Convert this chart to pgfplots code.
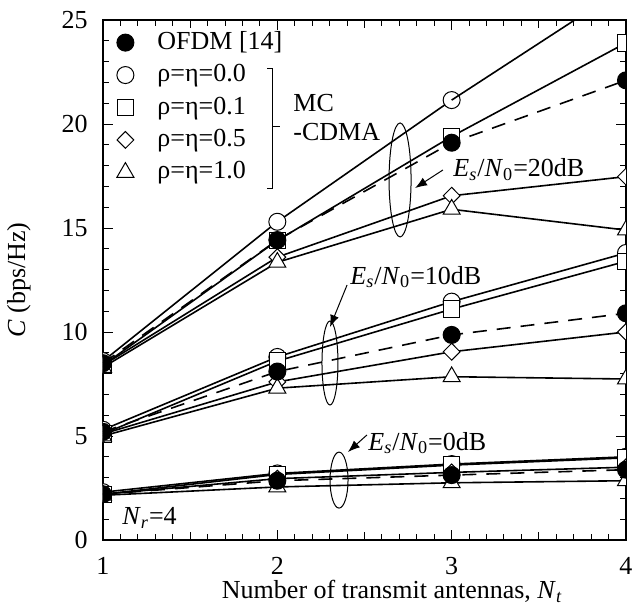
\documentclass[border=0pt]{standalone}
\usepackage{fontspec}
\setmainfont{Liberation Serif}
\usepackage{pgfplots}
\pgfplotsset{compat=1.18}
\usetikzlibrary{arrows.meta}

\pgfplotsset{
 ofdm/.style={black, line width=0.8pt, dash pattern=on 7pt off 5pt, mark=*, mark size=4.25pt, mark options={solid, fill=black, line width=0.5pt}},
 ca/.style={black, line width=0.8pt, mark=*, mark size=4.25pt, mark options={solid, fill=white, line width=0.5pt}},
 cb/.style={black, line width=0.8pt, mark=square*, mark size=4.1pt, mark options={solid, fill=white, line width=0.5pt}},
 cc/.style={black, line width=0.8pt, mark=diamond*, mark size=4.2pt, mark options={solid, fill=white, line width=0.5pt, xscale=1.33}},
 cd/.style={black, line width=0.8pt, mark=triangle*, mark size=4.9pt, mark options={solid, fill=white, line width=0.5pt}},
}

\begin{document}
\fontsize{13}{15.6}\selectfont
\begin{tikzpicture}
\begin{axis}[
 name=ax,
 scale only axis, width=261.5pt, height=260pt,
 xmin=1, xmax=4, ymin=0, ymax=25,
 xtick={1,2,3,4}, ytick={0,5,...,25},
 minor x tick num=9, minor y tick num=4,
 extra x ticks={1.5,2.5,3.5}, extra x tick labels={},
 extra x tick style={major tick length=4pt},
 tick align=inside,
 major tick length=5pt, minor tick length=3pt,
 axis line style={line width=0.6pt},
 every tick/.style={black, line width=0.5pt},
 /pgf/number format/assume math mode=true,
 tick label style={font=\fontsize{13}{15.6}\selectfont},
 xticklabel style={anchor=base, yshift=-17pt},
 yticklabel style={anchor=east, inner sep=0pt, xshift=-7.5pt},
 label style={font=\fontsize{13}{15.6}\selectfont},
 xlabel={Number of transmit antennas, \textit{N}\textsubscript{\textit{t}}},
 ylabel={\textit{C} (bps/Hz)},
 every axis x label/.style={at={(axis description cs:0.553,-0.1125)}, anchor=base},
 every axis y label/.style={at={(axis description cs:-0.161,0.5)}, rotate=90, anchor=center},
 clip marker paths=true,
 legend style={draw=none, fill=none, at={(rel axis cs:0,1)}, anchor=north west, yshift=-4pt,
   inner sep=0pt, row sep=2pt, column sep=6pt, cells={anchor=west},
   nodes={inner sep=1pt, text height=0.72em, text depth=0.22em},
   font=\fontsize{13}{15.6}\selectfont},
 legend image code/.code={\path[draw=none, fill=none] (0pt,-2pt) rectangle (20pt,2pt);
   \draw[#1] plot coordinates {(11pt,0pt)};},
]
\addlegendimage{ofdm}\addlegendentry{OFDM [14]}
\addlegendimage{ca}\addlegendentry{ρ=η=0.0}
\addlegendimage{cb}\addlegendentry{ρ=η=0.1}
\addlegendimage{cc}\addlegendentry{ρ=η=0.5}
\addlegendimage{cd}\addlegendentry{ρ=η=1.0}

% ---- Es/N0 = 20 dB ----
\addplot[ca, forget plot] coordinates {(1,8.6) (2,15.3) (3,21.15)};
\addplot[black, line width=0.8pt, forget plot] coordinates {(3,21.15) (3.706,25)};
\addplot[cb, forget plot] coordinates {(1,8.4) (2,14.4) (3,19.4) (4,23.9)};
\addplot[cc, forget plot] coordinates {(1,8.4) (2,13.6) (3,16.55) (4,17.47)};
\addplot[cd, forget plot] coordinates {(1,8.3) (2,13.35) (3,15.9) (4,14.9)};
\addplot[ofdm, forget plot] coordinates {(1,8.5) (2,14.42) (3,19.1) (4,22.1)};

% ---- Es/N0 = 10 dB ----
\addplot[ca, forget plot] coordinates {(1,5.3) (2,8.8) (3,11.46) (4,13.8)};
\addplot[cb, forget plot] coordinates {(1,5.1) (2,8.6) (3,11.1) (4,13.4)};
\addplot[cc, forget plot] coordinates {(1,5.1) (2,7.6) (3,9.05) (4,10.0)};
\addplot[cd, forget plot] coordinates {(1,5.0) (2,7.3) (3,7.85) (4,7.74)};
\addplot[ofdm, forget plot] coordinates {(1,5.2) (2,8.1) (3,9.86) (4,10.9)};

% ---- Es/N0 = 0 dB ----
\addplot[ca, forget plot] coordinates {(1,2.3) (2,3.2) (3,3.65) (4,4.0)};
\addplot[cb, forget plot] coordinates {(1,2.2) (2,3.15) (3,3.6) (4,3.95)};
\addplot[cc, forget plot] coordinates {(1,2.2) (2,2.95) (3,3.25) (4,3.5)};
\addplot[cd, forget plot] coordinates {(1,2.15) (2,2.55) (3,2.75) (4,2.85)};
\addplot[ofdm, forget plot] coordinates {(1,2.2) (2,2.85) (3,3.12) (4,3.38)};

% ---- annotations ----
\draw[line width=0.5pt] (axis cs:1.941,22.69) -- (axis cs:1.975,22.69) -- (axis cs:1.975,16.92) -- (axis cs:1.941,16.92);
\draw[line width=0.5pt] (axis cs:1.975,19.86) -- (axis cs:2.015,19.86);
\node[anchor=west, inner sep=0pt] at (axis cs:2.09,21.01) {MC};
\node[anchor=west, inner sep=0pt] at (axis cs:2.09,19.62) {-CDMA};

\draw[line width=0.5pt] (axis cs:2.704,17.31) ellipse [x radius=5.5pt, y radius=28.5pt];
\draw[line width=0.5pt, -{Latex[length=6pt,width=4.5pt]}] (axis cs:2.95,17.79) -- (axis cs:2.79,16.92);
\node[anchor=west, inner sep=0pt] at (axis cs:3.008,17.79) {\textit{E}\textsubscript{\textit{s}}/\textit{N}\textsubscript{0}=20dB};

\draw[line width=0.5pt] (axis cs:2.302,8.51) ellipse [x radius=4pt, y radius=21pt];
\draw[line width=0.5pt, -{Latex[length=6pt,width=4.5pt]}] (axis cs:2.40,12.26) -- (axis cs:2.302,10.24);
\node[anchor=west, inner sep=0pt] at (axis cs:2.417,12.64) {\textit{E}\textsubscript{\textit{s}}/\textit{N}\textsubscript{0}=10dB};

\draw[line width=0.5pt] (axis cs:2.354,2.88) ellipse [x radius=4.5pt, y radius=14pt];
\draw[line width=0.5pt, -{Latex[length=6pt,width=4.5pt]}] (axis cs:2.514,5.05) -- (axis cs:2.405,4.23);
\node[anchor=west, inner sep=0pt] at (axis cs:2.52,4.66) {\textit{E}\textsubscript{\textit{s}}/\textit{N}\textsubscript{0}=0dB};

\node[anchor=west, inner sep=0pt] at (axis cs:1.109,1.06) {\textit{N}\textsubscript{\textit{r}}=4};
\end{axis}
\pgfresetboundingbox
\path[use as bounding box] ([xshift=-51.5pt,yshift=-33pt]ax.south west) rectangle ([xshift=3.5pt,yshift=10pt]ax.north east);
\end{tikzpicture}
\end{document}
